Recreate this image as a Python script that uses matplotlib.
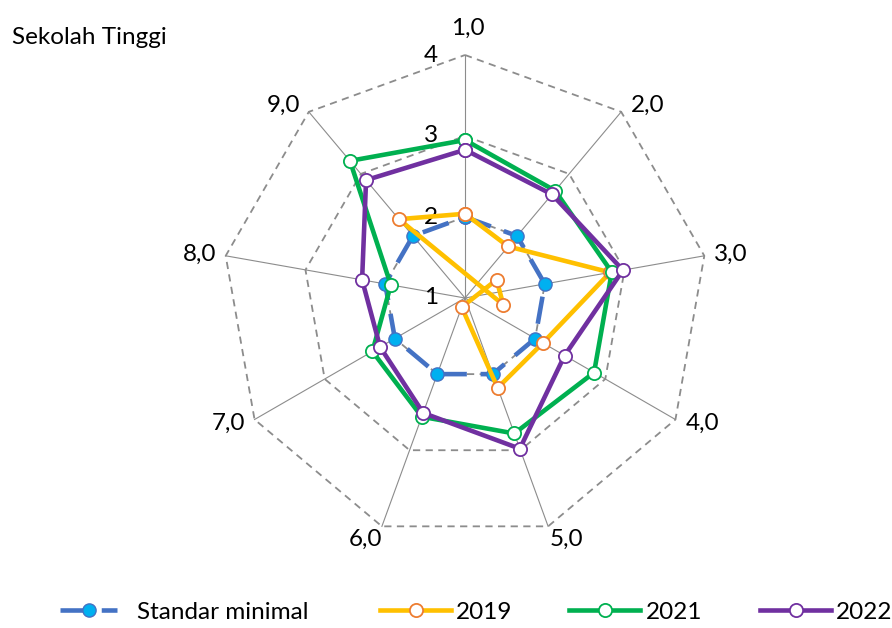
import numpy as np
import matplotlib.pyplot as plt

plt.rcParams['font.family'] = ['Lato', 'DejaVu Sans']

axis_labels = ["1,0", "2,0", "3,0", "4,0", "5,0", "6,0", "7,0", "8,0", "9,0"]
r_ticks = [1, 2, 3, 4]
standar = [2.0, 2.0, 2.0, 2.0, 2.0, 2.0, 2.0, 2.0, 2.0]
y2019 = [2.04, 1.83, 2.82, 2.11, 2.18, 1.12, 0.55, 0.52, 2.27]
y2021 = [2.95, 2.73, 2.84, 2.84, 2.78, 2.56, 2.32, 1.93, 3.21]
y2022 = [2.83, 2.67, 2.98, 2.42, 2.98, 2.51, 2.21, 2.29, 2.90]

R_MIN = r_ticks[0]
R_MAX = r_ticks[-1]
n = len(axis_labels)
theta = 2 * np.pi * np.arange(n) / n


def to_xy(vals, close=True):
    # excel style radar: values under the minimum go through the centre
    u = np.asarray(vals, dtype=float) - R_MIN
    x = u * np.sin(theta)
    y = u * np.cos(theta)
    if close:
        x = np.append(x, x[0])
        y = np.append(y, y[0])
    return x, y


W, H = 892, 628
PX = 81.0          # pixels per radial unit
cx, cy = 465, 298  # centre of the web in pixels
FS = 17.5

fig = plt.figure(figsize=(W / 100, H / 100), dpi=100)
ax = fig.add_axes([0, 0, 1, 1])
ax.set_xlim(-cx / PX, (W - cx) / PX)
ax.set_ylim(-(H - cy) / PX, cy / PX)
ax.axis("off")

grid_c = "#8c8c8c"
# spokes
for t in theta:
    ax.plot([0, (R_MAX - R_MIN) * np.sin(t)], [0, (R_MAX - R_MIN) * np.cos(t)],
            color=grid_c, lw=0.8, zorder=1)
# dashed rings
for r in r_ticks[1:]:
    gx, gy = to_xy([r] * n)
    ax.plot(gx, gy, color=grid_c, lw=1.3, dashes=(4, 3), zorder=1)

# radial tick labels
for r in r_ticks:
    ax.text(-27 / PX, r - R_MIN, str(r), ha="right", va="center",
            fontsize=FS, color="black")

# category labels, placed like excel does
for i, lab in enumerate(axis_labels):
    s, c = np.sin(theta[i]), np.cos(theta[i])
    vx = (R_MAX - R_MIN) * s
    vy = (R_MAX - R_MIN) * c
    if c > 0.9:
        dx, dy, ha = 3, 27, "center"
    elif c < -0.9:
        dx, dy, ha = (2 if s > 0 else 0), -13, ("left" if s > 0 else "right")
    elif s > 0:
        dx, dy, ha = 10, 8 * c, "left"
    else:
        dx, dy, ha = -9, 8 * c, "right"
    ax.text(vx + dx / PX, vy + dy / PX, lab, ha=ha, va="center",
            fontsize=FS, color="black")

x, y = to_xy(standar)
l0, = ax.plot(x, y, color="#4472C4", lw=3.3, dashes=(6, 3), marker="o", ms=9.5,
              mfc="#00B0F0", mec="#4472C4", mew=1, zorder=3)
x, y = to_xy(y2019)
l1, = ax.plot(x, y, color="#FFC000", lw=3.3, marker="o", ms=9.5,
              mfc="white", mec="#ED7D31", mew=1.3, zorder=4)
x, y = to_xy(y2021)
l2, = ax.plot(x, y, color="#00B050", lw=3.3, marker="o", ms=9.5,
              mfc="white", mec="#00B050", mew=1.3, zorder=5)
x, y = to_xy(y2022)
l3, = ax.plot(x, y, color="#7030A0", lw=3.3, marker="o", ms=9.5,
              mfc="white", mec="#7030A0", mew=1.3, zorder=6)

fig.text(12 / W, 1 - 38 / H, "Sekolah Tinggi", ha="left", va="center", fontsize=FS)

# legend entries spaced like the excel legend: (handle start, handle end, text start) px
fs_px = FS * 100 / 72
leg = [(l0, "Standar minimal", 60, 117, 137),
       (l1, "2019", 380, 451, 456),
       (l2, "2021", 569, 640, 646),
       (l3, "2022", 760, 831, 836)]
for h, lab, x0, x1, xt in leg:
    fig.legend([h], [lab], loc="center left", bbox_to_anchor=(x0 / W, 1 - 612 / H),
               frameon=False, fontsize=FS, borderpad=0, borderaxespad=0,
               handlelength=(x1 - x0) / fs_px, handletextpad=(xt - x1) / fs_px,
               numpoints=1)

fig.savefig("out.png", dpi=100)
